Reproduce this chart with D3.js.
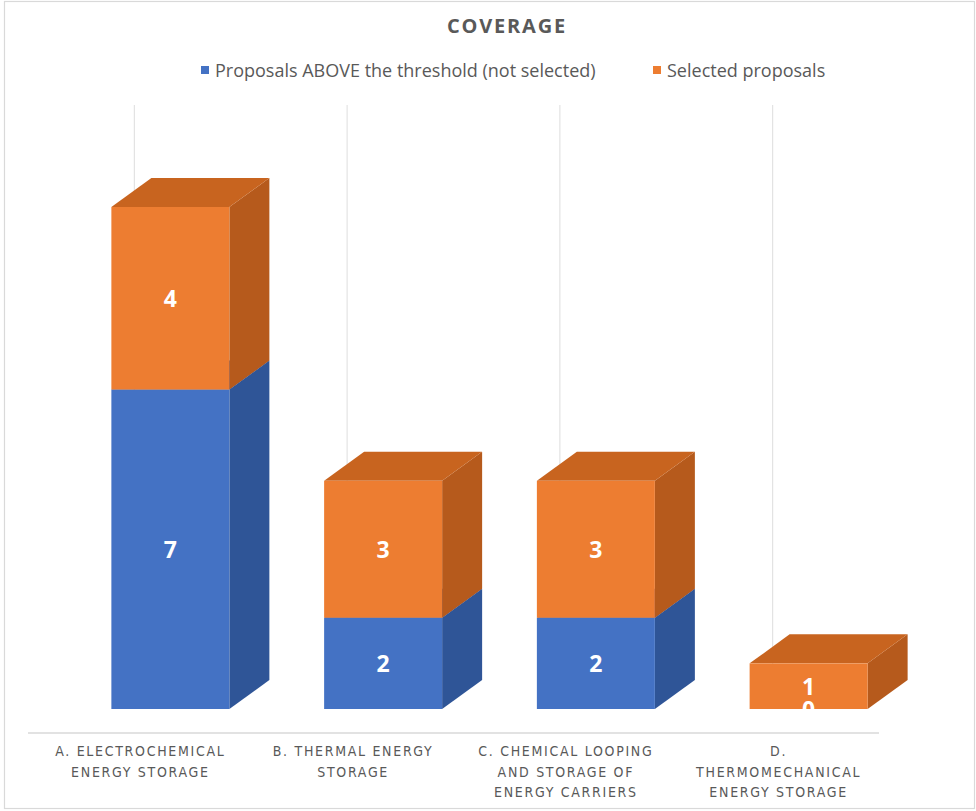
<!DOCTYPE html>
<html>
<head>
<meta charset="utf-8">
<script src="https://cdn.jsdelivr.net/npm/d3@7"></script>
<style>
  html, body { margin: 0; padding: 0; background: #fff; }
  svg { display: block; }
</style>
</head>
<body>
<div id="chart"></div>
<script>
// Coverage: proposals per topic, stacked 3D columns
const categories = [
  ["A. ELECTROCHEMICAL", "ENERGY STORAGE"],
  ["B. THERMAL ENERGY", "STORAGE"],
  ["C. CHEMICAL LOOPING", "AND STORAGE OF", "ENERGY CARRIERS"],
  ["D.", "THERMOMECHANICAL", "ENERGY STORAGE"]
];
const categoryKeys = ["A", "B", "C", "D"];
const aboveThreshold = [7, 2, 2, 0];
const selected = [4, 3, 3, 1];
const seriesNames = ["Proposals ABOVE the threshold (not selected)", "Selected proposals"];
const yMax = 11;

const W = 976, H = 811;
const svg = d3.select("#chart").append("svg").attr("width", W).attr("height", H);

svg.append("rect").attr("x", 4.5).attr("y", 1.5).attr("width", W - 6).attr("height", H - 4)
  .attr("fill", "#fff").attr("stroke", "#d9d9d9").attr("stroke-width", 1.2);

const x = d3.scaleBand().domain(categoryKeys).range([28, 879]).padding(0);
const y = d3.scaleLinear().domain([0, yMax]).range([709, 207]);

// 3D projection of the column depth
const depthX = 40, depthY = -29;
const frontOffset = -23, frontWidth = 118;

const palette = {
  above: { front: "#4472C4", side: "#2F5597", top: "#3B67B8" },
  sel:   { front: "#ED7D31", side: "#B65A1C", top: "#C8641F" }
};

// Title
svg.append("text").attr("x", 507).attr("y", 33).attr("text-anchor", "middle")
  .attr("font-family", "Open Sans, sans-serif").attr("font-weight", 700)
  .attr("font-size", 20).attr("letter-spacing", 1.8).attr("fill", "#595959")
  .text("COVERAGE");

// Legend
const legend = [
  { name: seriesNames[0], color: palette.above.front, x: 201 },
  { name: seriesNames[1], color: palette.sel.front, x: 653 }
];
const lg = svg.append("g").selectAll("g").data(legend).join("g")
  .attr("transform", d => `translate(${d.x},70)`);
lg.append("rect").attr("x", 0).attr("y", -4).attr("width", 8).attr("height", 8).attr("fill", d => d.color);
lg.append("text").attr("x", 14).attr("y", 6.5)
  .attr("font-family", "Open Sans, sans-serif").attr("font-size", 18).attr("fill", "#595959")
  .text(d => d.name);

// Back-wall vertical gridlines
svg.append("g").selectAll("line").data(categoryKeys).join("line")
  .attr("x1", d => x(d) + x.bandwidth() / 2).attr("x2", d => x(d) + x.bandwidth() / 2)
  .attr("y1", 105).attr("y2", y(0) + depthY)
  .attr("stroke", "#e3e3e3").attr("stroke-width", 1.2);

// Floor front edge / category axis
svg.append("line").attr("x1", x.range()[0]).attr("x2", x.range()[1])
  .attr("y1", 733).attr("y2", 733).attr("stroke", "#d9d9d9").attr("stroke-width", 1.5);

// Stack the series
const rows = categoryKeys.map((k, i) => ({ key: k, above: aboveThreshold[i], sel: selected[i] }));
const stack = d3.stack().keys(["above", "sel"])(rows);

const bars = svg.append("g");
function drawBox(g, x0, y0, y1, col) {
  const x1 = x0 + frontWidth;
  // right side face
  g.append("path").attr("fill", col.side)
    .attr("d", `M${x1},${y1}L${x1 + depthX},${y1 + depthY}L${x1 + depthX},${y0 + depthY}L${x1},${y0}Z`);
  // top face
  g.append("path").attr("fill", col.top)
    .attr("d", `M${x0},${y1}L${x0 + depthX},${y1 + depthY}L${x1 + depthX},${y1 + depthY}L${x1},${y1}Z`);
  // front face
  g.append("rect").attr("x", x0).attr("y", y1).attr("width", frontWidth).attr("height", Math.max(0, y0 - y1))
    .attr("fill", col.front);
}

rows.forEach((r, i) => {
  const g = bars.append("g");
  const x0 = x(r.key) + x.bandwidth() / 2 + frontOffset;
  stack.forEach(s => {
    const d = s[i];
    if (d[1] - d[0] > 0) drawBox(g, x0, y(d[0]), y(d[1]), s.key === "above" ? palette.above : palette.sel);
  });
});

// Value labels
const labelG = svg.append("g");
stack.forEach(s => {
  s.forEach((d, i) => {
    const cx = x(categoryKeys[i]) + x.bandwidth() / 2 + frontOffset + frontWidth / 2;
    labelG.append("text").attr("x", cx).attr("y", (y(d[0]) + y(d[1])) / 2)
      .attr("text-anchor", "middle").attr("dominant-baseline", "central")
      .attr("font-family", "Open Sans, sans-serif").attr("font-weight", 700)
      .attr("font-size", 23).attr("fill", "#fff")
      .text(d[1] - d[0]);
  });
});

// Category labels
const cat = svg.append("g").selectAll("text").data(categories).join("text")
  .attr("text-anchor", "middle")
  .attr("font-family", "Liberation Sans Narrow, DejaVu Sans Condensed, sans-serif")
  .attr("font-size", 14).attr("letter-spacing", 1.7).attr("fill", "#595959");
cat.each(function (lines, i) {
  const cx = x(categoryKeys[i]) + x.bandwidth() / 2 + 6;
  d3.select(this).selectAll("tspan").data(lines).join("tspan")
    .attr("x", cx).attr("y", (d, j) => 756 + j * 20.5).text(d => d);
});
</script>
</body>
</html>
